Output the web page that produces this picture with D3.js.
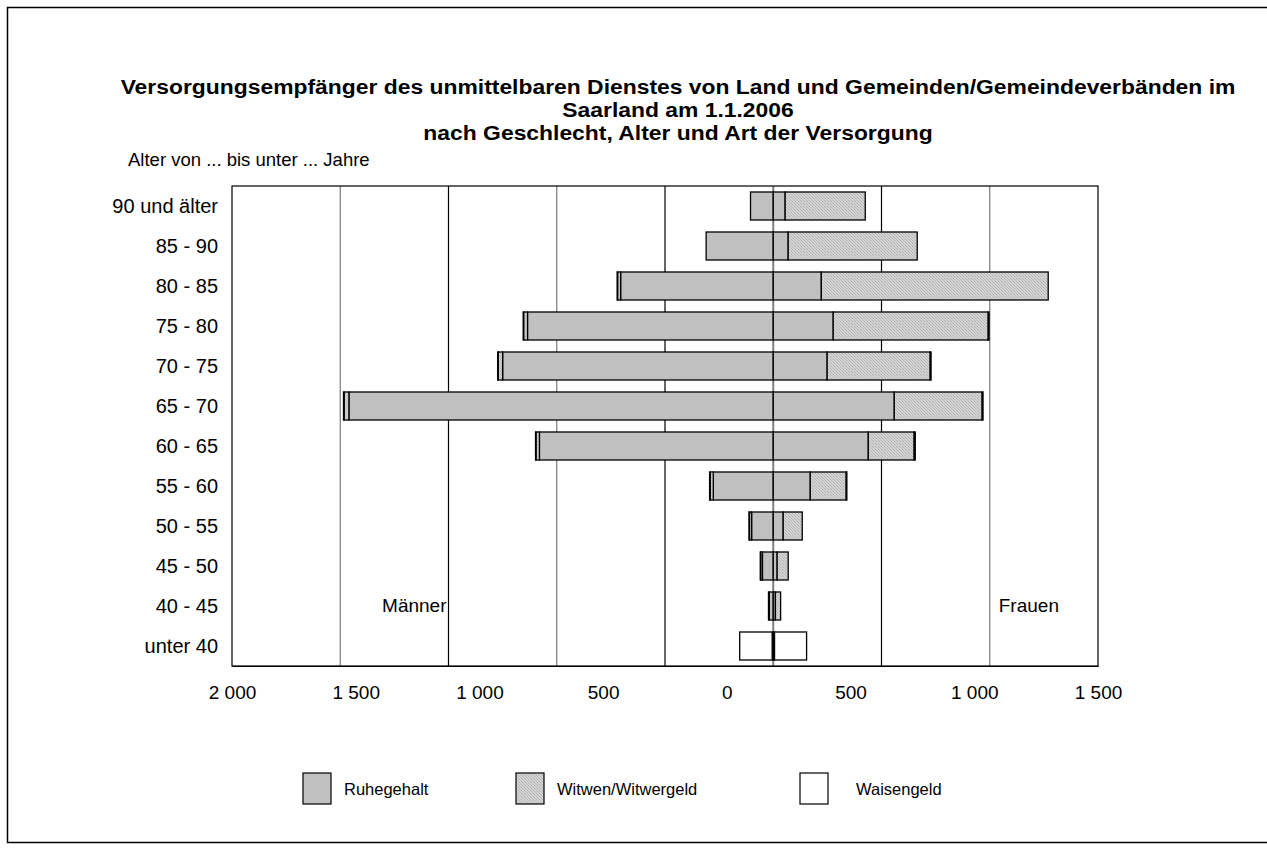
<!DOCTYPE html>
<html>
<head>
<meta charset="utf-8">
<script src="https://cdn.jsdelivr.net/npm/d3@7"></script>
<style>
  body { margin: 0; background: #fff; }
  text { font-family: "Liberation Sans", Arial, sans-serif; fill: #000; }
</style>
</head>
<body>
<div id="chart"></div>
<script>
const ageGroups = ["90 und älter", "85 - 90", "80 - 85", "75 - 80", "70 - 75", "65 - 70",
  "60 - 65", "55 - 60", "50 - 55", "45 - 50", "40 - 45", "unter 40"];

// Männer
const menRuhegehalt = [105, 310, 705, 1135, 1250, 1960, 1080, 277, 100, 50, 18, 5];
const menWitwergeld = [0, 0, 14, 18, 20, 22, 16, 14, 10, 8, 4, 0];
const menWaisengeld = [0, 0, 2, 2, 3, 3, 2, 3, 2, 2, 0, 150];

// Frauen
const womenRuhegehalt = [55, 69, 222, 277, 249, 559, 439, 171, 46, 18, 10, 6];
const womenWitwengeld = [370, 596, 1048, 716, 476, 406, 212, 166, 88, 51, 24, 0];
const womenWaisengeld = [0, 0, 0, 4, 4, 4, 5, 3, 0, 0, 0, 148];

const seriesNames = ["Ruhegehalt", "Witwen/Witwergeld", "Waisengeld"];
const tickLabelValues = [-2000, -1500, -1000, -500, 0, 500, 1000, 1500];
const titleLines = [
  "Versorgungsempfänger des unmittelbaren Dienstes von Land und Gemeinden/Gemeindeverbänden im",
  "Saarland am 1.1.2006",
  "nach Geschlecht, Alter und Art der Versorgung"
];

const width = 1267, height = 848;
const plot = { left: 232, right: 1098, top: 186, bottom: 666 };

const svg = d3.select("#chart").append("svg")
  .attr("width", width)
  .attr("height", height);

const defs = svg.append("defs");
const pat = defs.append("pattern")
  .attr("id", "hatch")
  .attr("width", 3).attr("height", 3)
  .attr("patternUnits", "userSpaceOnUse");
pat.append("rect").attr("width", 3).attr("height", 3).attr("fill", "#d4d4d4");
pat.append("rect").attr("x", 0).attr("y", 0).attr("width", 1).attr("height", 1).attr("fill", "#b0b0b0");
pat.append("rect").attr("x", 1).attr("y", 1).attr("width", 1).attr("height", 1).attr("fill", "#bcbcbc");
pat.append("rect").attr("x", 2).attr("y", 2).attr("width", 1).attr("height", 1).attr("fill", "#b0b0b0");

const fills = ["#c0c0c0", "url(#hatch)", "#ffffff"];

// outer frame
svg.append("rect")
  .attr("x", 7.5).attr("y", 7.5)
  .attr("width", 1280).attr("height", 835)
  .attr("fill", "none").attr("stroke", "#000").attr("stroke-width", 1.5);

// title (slightly widened, as in the original export)
svg.append("g")
  .selectAll("text")
  .data(titleLines)
  .join("text")
  .attr("transform", (d, i) => `translate(678,${94 + i * 23}) scale(1.1,1)`)
  .attr("text-anchor", "middle")
  .style("font-weight", "bold")
  .style("font-size", "20.8px")
  .text(d => d);

svg.append("text")
  .attr("x", 128).attr("y", 166)
  .style("font-size", "18.5px")
  .text("Alter von ... bis unter ... Jahre");

// scales
const x = d3.scaleLinear().domain([-2500, 1500]).range([plot.left, plot.right]);
const xLabel = d3.scaleLinear().domain([-2000, 1500]).range([plot.left, plot.right]);
const y = d3.scaleBand().domain(ageGroups).range([plot.top, plot.bottom]).paddingInner(0.3).paddingOuter(0.15);

// gridlines
svg.append("g")
  .selectAll("line")
  .data(d3.range(-2000, 1001, 500))
  .join("line")
  .attr("x1", d => x(d)).attr("x2", d => x(d))
  .attr("y1", plot.top).attr("y2", plot.bottom)
  .attr("stroke", d => d === 0 ? "#808080" : (d === -2000 || d === -1000 || d === 1000 ? "#7a7a7a" : "#000"))
  .attr("stroke-width", d => d === 0 ? 2 : 1.2);

// plot border
svg.append("rect")
  .attr("x", plot.left).attr("y", plot.top)
  .attr("width", plot.right - plot.left).attr("height", plot.bottom - plot.top)
  .attr("fill", "none").attr("stroke", "#000").attr("stroke-width", 1.2);

// bars
const menSeries = [menRuhegehalt, menWitwergeld, menWaisengeld];
const womenSeries = [womenRuhegehalt, womenWitwengeld, womenWaisengeld];

function stackSide(series, sign) {
  const segs = [];
  ageGroups.forEach((age, i) => {
    let acc = 0;
    series.forEach((vals, s) => {
      const v = vals[i];
      if (v > 0) segs.push({ age, s, a: sign * acc, b: sign * (acc + v) });
      acc += v;
    });
  });
  return segs;
}

const segs = stackSide(menSeries, -1).concat(stackSide(womenSeries, 1));

svg.append("g")
  .selectAll("rect")
  .data(segs)
  .join("rect")
  .attr("x", d => x(Math.min(d.a, d.b)))
  .attr("width", d => Math.abs(x(d.b) - x(d.a)))
  .attr("y", d => y(d.age))
  .attr("height", y.bandwidth())
  .attr("fill", d => fills[d.s])
  .attr("stroke", "#000")
  .attr("stroke-width", 1.3);

// y labels
svg.append("g")
  .selectAll("text")
  .data(ageGroups)
  .join("text")
  .attr("x", 218)
  .attr("y", d => y(d) + y.bandwidth() / 2)
  .attr("dy", "0.35em")
  .attr("text-anchor", "end")
  .style("font-size", "20px")
  .text(d => d);

// x axis
const fmt = d3.formatLocale({ decimal: ",", thousands: " ", grouping: [3], currency: ["", ""] }).format(",");
const xAxis = svg.append("g")
  .attr("transform", `translate(0,${plot.bottom})`)
  .call(d3.axisBottom(xLabel).tickValues(tickLabelValues).tickSize(0).tickPadding(20).tickFormat(d => fmt(Math.abs(d))));
xAxis.select(".domain").attr("stroke", "#000").attr("stroke-width", 1.2);
xAxis.selectAll("text").style("font-size", "19px").style("font-family", "Liberation Sans, Arial, sans-serif");

// side labels
svg.append("text").attr("x", x(-1500) - 2).attr("y", 612).attr("text-anchor", "end")
  .style("font-size", "19px").text("Männer");
svg.append("text").attr("x", x(1000) + 9).attr("y", 612)
  .style("font-size", "19px").text("Frauen");

// legend
const legendX = [303, 516, 800];
const legend = svg.append("g").selectAll("g")
  .data(seriesNames)
  .join("g")
  .attr("transform", (d, i) => `translate(${legendX[i]},773)`);
legend.append("rect")
  .attr("width", 28).attr("height", 31)
  .attr("fill", (d, i) => fills[i])
  .attr("stroke", "#000").attr("stroke-width", 1.2);
legend.append("text")
  .attr("x", (d, i) => i === 2 ? 56 : 41)
  .attr("y", 22)
  .style("font-size", "16.5px")
  .text(d => d);
</script>
</body>
</html>
